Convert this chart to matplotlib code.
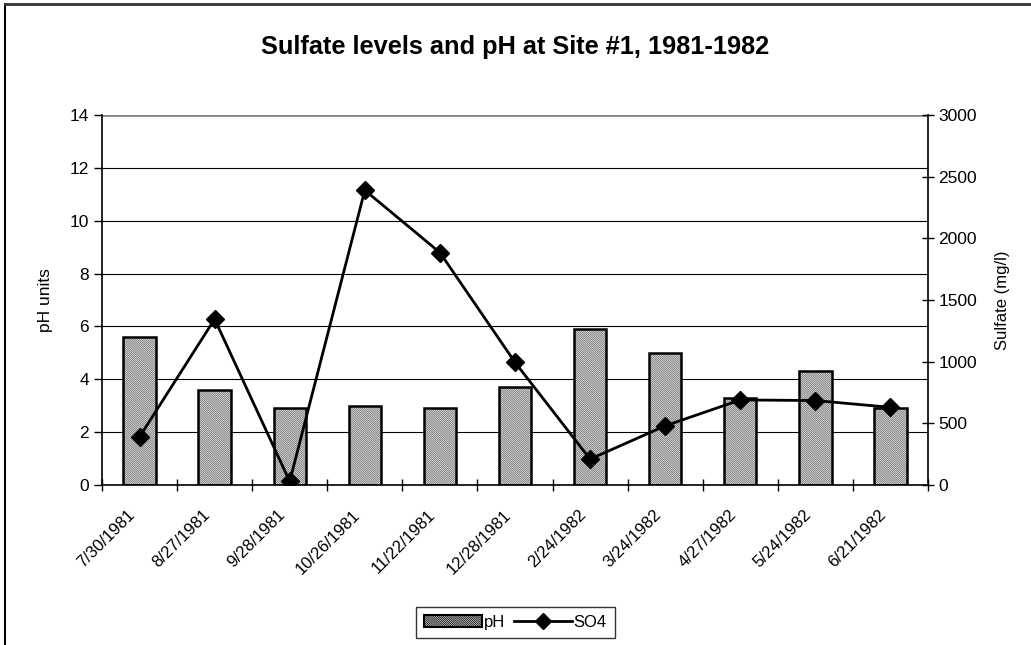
import matplotlib.pyplot as plt
import matplotlib.transforms as mtransforms
import numpy as np
from matplotlib.lines import Line2D
from matplotlib.patches import Patch

plt.rcParams['font.family'] = ['Liberation Sans', 'DejaVu Sans']
plt.rcParams['hatch.linewidth'] = 0.6

# data
dates = ['7/30/1981', '8/27/1981', '9/28/1981', '10/26/1981', '11/22/1981',
         '12/28/1981', '2/24/1982', '3/24/1982', '4/27/1982', '5/24/1982',
         '6/21/1982']
ph = [5.6, 3.6, 2.9, 3.0, 2.9, 3.7, 5.9, 5.0, 3.3, 4.3, 2.9]
so4 = [390, 1345, 30, 2390, 1885, 995, 210, 480, 690, 685, 630]

x = np.arange(len(dates))
hatch = '\\' * 16

fig = plt.figure(figsize=(10.31, 6.45), dpi=100)
ax = fig.add_axes([0.0989, 0.248, 0.8012, 0.5737])

# hatched bars (fill + hatch first, then black outline)
ax.bar(x, ph, width=0.43, color='white', edgecolor='#6a6a6a', hatch=hatch,
       linewidth=0, zorder=2)
ax.bar(x, ph, width=0.43, fill=False, edgecolor='black', linewidth=1.8, zorder=3)

ax.set_xlim(-0.5, len(dates) - 0.5)
ax.set_ylim(0, 14)
ax.set_yticks(np.arange(0, 15, 2))
ax.set_ylabel('pH units', fontsize=12.5, labelpad=12)
ax.yaxis.grid(True, color='black', linewidth=0.8)
ax.set_axisbelow(True)

ax.set_xticks(x)
ax.set_xticklabels(dates, rotation=45, ha='right', va='top',
                   rotation_mode='anchor', fontsize=12)
ax.tick_params(axis='x', length=0, pad=16)
shift = mtransforms.ScaledTranslation(-12 / 100, 0, fig.dpi_scale_trans)
for lab in ax.get_xticklabels():
    lab.set_transform(lab.get_transform() + shift)
ax.set_xticks(np.arange(-0.5, len(dates)), minor=True)
ax.tick_params(axis='x', which='minor', length=8, direction='inout', width=1)
ax.tick_params(axis='y', length=6, direction='out', labelsize=12.5, width=1)

for s in ['top', 'right']:
    ax.spines[s].set_visible(False)
ax.spines['left'].set_linewidth(1.2)
ax.spines['bottom'].set_linewidth(1.2)

ax2 = ax.twinx()
ax2.plot(x, so4, color='black', linewidth=2, marker='D', markersize=9, zorder=4)
ax2.set_ylim(0, 3000)
ax2.set_yticks(np.arange(0, 3001, 500))
ax2.tick_params(axis='y', length=8, direction='inout', labelsize=12.5, width=1)
ax2.set_ylabel('Sulfate (mg/l)', fontsize=12, labelpad=13)
for s in ['top', 'left', 'bottom']:
    ax2.spines[s].set_visible(False)
ax2.spines['right'].set_linewidth(1.2)
ax.axhline(14, color='#888888', linewidth=2, zorder=1)

fig.suptitle('Sulfate levels and pH at Site #1, 1981-1982', fontsize=18.3,
             fontweight='bold', y=0.945)

handles = [Patch(facecolor='white', edgecolor='black', hatch=hatch, linewidth=1.5),
           Line2D([], [], color='black', linewidth=2, marker='D', markersize=8)]
leg = fig.legend(handles, ['pH', 'SO4'], loc='center', bbox_to_anchor=(0.5, 0.035),
                 ncol=2, frameon=True, fancybox=False, fontsize=12,
                 handlelength=3.5, handletextpad=0.1, columnspacing=0.5,
                 borderpad=0.5, borderaxespad=0)
leg.get_frame().set_edgecolor('black')
leg.get_frame().set_linewidth(1)

# outer chart border (left and top edges visible)
fig.add_artist(Line2D([5 / 1031, 5 / 1031], [0, 1 - 4 / 645], color='black', linewidth=1.5))
fig.add_artist(Line2D([5 / 1031, 1], [1 - 4 / 645, 1 - 4 / 645], color='#333333', linewidth=2))

fig.savefig('out.png', dpi=100)
